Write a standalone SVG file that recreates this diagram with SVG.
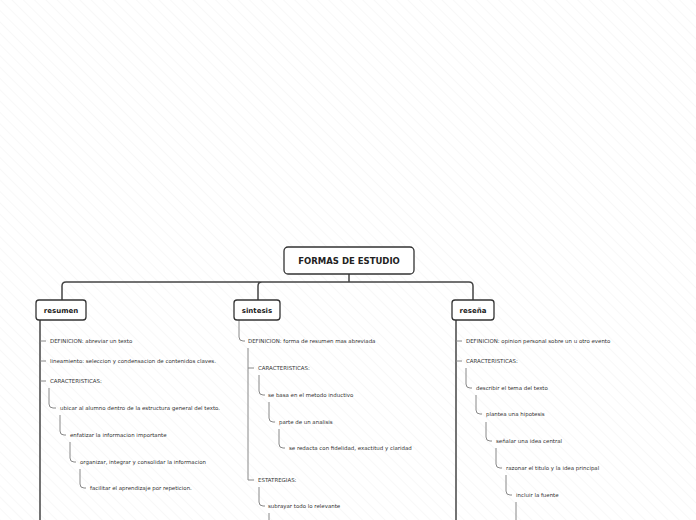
<svg xmlns="http://www.w3.org/2000/svg" width="696" height="520" viewBox="0 0 696 520">
<defs>
<pattern id="hatch" width="8" height="8" patternUnits="userSpaceOnUse" patternTransform="rotate(-45)">
<line x1="0" y1="0" x2="0" y2="8" stroke="#f2f2f2" stroke-width="1"/>
</pattern>
<style>
.box{fill:#fff;stroke:#333;stroke-width:1.3}
.lbl{font-family:"DejaVu Sans",sans-serif;font-weight:bold;fill:#222;text-anchor:middle}
.t{font-family:"DejaVu Sans",sans-serif;font-size:5.45px;fill:#333}
.main{fill:none;stroke:#444;stroke-width:1.5}
.sub{fill:none;stroke:#888;stroke-width:1}
</style>
</defs>
<rect width="696" height="520" fill="#fff"/>
<rect width="696" height="520" fill="url(#hatch)"/>
<g id="connectors">
<path class="main" d="M349 274 V282 M66 282 H469 Q473 282 473 286 V300 M62 300 V286 Q62 282 66 282 M258 300 V286 Q258 282 262 282"/>
<path class="main" d="M40 320 V520"/>
<path class="sub" d="M40 341 H46 M40 361 H46 M40 381 H46"/>
<path class="sub" d="M49 388 V404 Q49 408 53 408 H56 M60 415 V431 Q60 435 64 435 H66 M70 442 V458 Q70 462 74 462 H76 M80 469 V484 Q80 488 84 488 H86"/>
<path class="sub" d="M239 320 V337 Q239 341 243 341 H245"/>
<path class="sub" d="M248 348 V480 M248 368 H254 M248 480 H254"/>
<path class="sub" d="M259 375 V391 Q259 395 263 395 H265 M269 402 V418 Q269 422 273 422 H275 M279 429 V444 Q279 448 283 448 H285 M259 487 V502 Q259 506 263 506 H265 M269 513 V520"/>
<path class="main" d="M456 320 V520" stroke="#555"/>
<path class="sub" d="M456 341 H462 M456 361 H462"/>
<path class="sub" d="M466 368 V384 Q466 388 470 388 H472 M476 395 V410 Q476 414 480 414 H482 M486 422 V437 Q486 441 490 441 H492 M496 448 V464 Q496 468 500 468 H502 M506 475 V491 Q506 495 510 495 H512 M516 502 V520"/>
</g>
<g id="root"><rect class="box" x="284" y="247" width="130" height="27" rx="4"/><text class="lbl" x="349" y="264" font-size="8.5">FORMAS DE ESTUDIO</text></g>
<g id="resumen"><rect class="box" x="36" y="300" width="50" height="20" rx="3"/><text class="lbl" x="61" y="313" font-size="7">resumen</text></g>
<g id="sintesis"><rect class="box" x="234" y="300" width="46" height="20" rx="3"/><text class="lbl" x="257" y="313" font-size="7">sintesis</text></g>
<g id="resena"><rect class="box" x="452" y="300" width="42" height="20" rx="3"/><text class="lbl" x="473" y="313" font-size="7">reseña</text></g>
<g id="resumen-items">
<text class="t" x="50" y="343">DEFINICION: abreviar un texto</text>
<text class="t" x="50" y="363">lineamiento: seleccion y condensacion de contenidos claves.</text>
<text class="t" x="50" y="383">CARACTERISTICAS:</text>
<text class="t" x="60" y="410">ubicar al alumno dentro de la estructura general del texto.</text>
<text class="t" x="70" y="437">enfatizar la informacion importante</text>
<text class="t" x="80" y="464">organizar, integrar y consolidar la informacion</text>
<text class="t" x="90" y="490">facilitar el aprendizaje por repeticion.</text>
</g>
<g id="sintesis-items">
<text class="t" x="248" y="343">DEFINICION: forma de resumen mas abreviada</text>
<text class="t" x="258" y="370">CARACTERISTICAS:</text>
<text class="t" x="268" y="397">se basa en el metodo inductivo</text>
<text class="t" x="279" y="424">parte de un analisis</text>
<text class="t" x="289" y="450">se redacta con fidelidad, exactitud y claridad</text>
<text class="t" x="258" y="482">ESTATREGIAS:</text>
<text class="t" x="268" y="508">subrayar todo lo relevante</text>
</g>
<g id="resena-items">
<text class="t" x="466" y="343">DEFINICION: opinion personal sobre un u otro evento</text>
<text class="t" x="466" y="363">CARACTERISTICAS:</text>
<text class="t" x="476" y="390">describir el tema del texto</text>
<text class="t" x="486" y="416">plantea una hipotesis</text>
<text class="t" x="496" y="443">señalar una idea central</text>
<text class="t" x="506" y="470">razonar el titulo y la idea principal</text>
<text class="t" x="516" y="497">incluir la fuente</text>
</g>
</svg>
